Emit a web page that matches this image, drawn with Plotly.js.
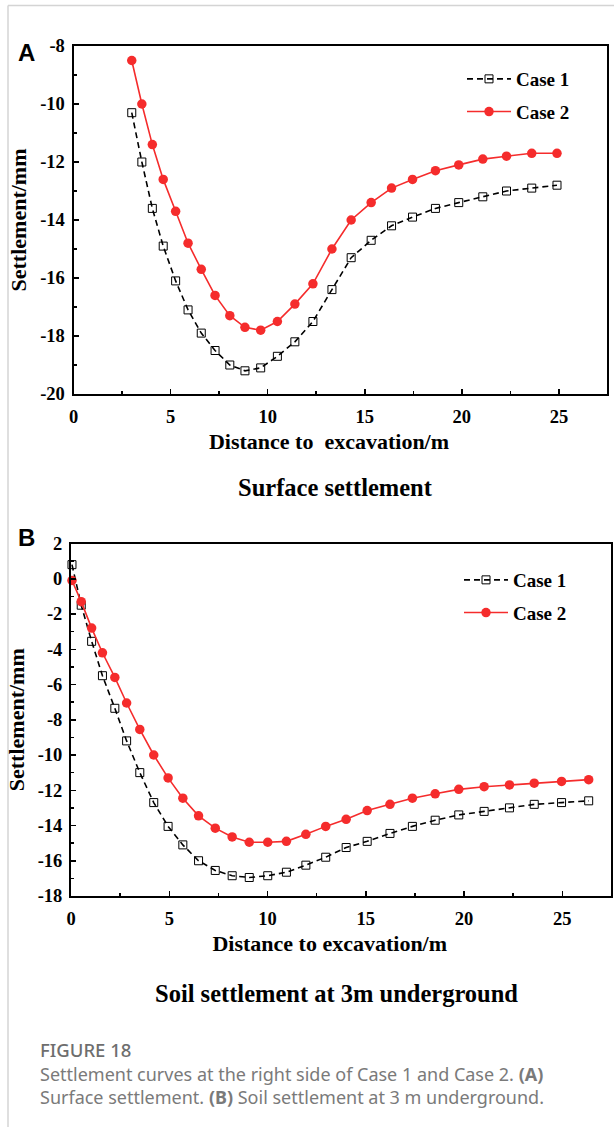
<!DOCTYPE html>
<html>
<head>
<meta charset="utf-8">
<script src="https://cdn.plot.ly/plotly-3.0.1.min.js"></script>
<style>
  html, body { margin: 0; padding: 0; background: #ffffff; }
  #chart { width: 614px; height: 1127px; }
</style>
</head>
<body>
<div id="chart"></div>
<script>
// ---------- data ----------
const seriesNames = ['Case 1', 'Case 2'];

// Panel A: surface settlement
const distanceA = [3.0, 3.52, 4.06, 4.62, 5.26, 5.9, 6.58, 7.29, 8.05, 8.83, 9.64, 10.5, 11.4, 12.33, 13.31, 14.3, 15.33, 16.38, 17.46, 18.64, 19.84, 21.08, 22.3, 23.6, 24.9];
const surfaceCase1 = [-10.3, -12.0, -13.6, -14.9, -16.1, -17.1, -17.9, -18.5, -19.0, -19.2, -19.1, -18.7, -18.2, -17.5, -16.4, -15.3, -14.7, -14.2, -13.9, -13.6, -13.4, -13.2, -13.0, -12.9, -12.8];
const surfaceCase2 = [-8.5, -10.0, -11.4, -12.6, -13.7, -14.8, -15.7, -16.6, -17.3, -17.7, -17.8, -17.5, -16.9, -16.2, -15.0, -14.0, -13.4, -12.9, -12.6, -12.3, -12.1, -11.9, -11.8, -11.7, -11.7];

// Panel B: soil settlement at 3 m underground
const distanceB = [0.05, 0.52, 1.05, 1.6, 2.23, 2.83, 3.5, 4.21, 4.94, 5.69, 6.49, 7.34, 8.2, 9.07, 10.01, 10.96, 11.95, 12.96, 14.0, 15.07, 16.23, 17.37, 18.53, 19.73, 21.02, 22.31, 23.57, 24.96, 26.34];
const soilCase1 = [0.8, -1.5, -3.55, -5.5, -7.35, -9.2, -11.0, -12.7, -14.05, -15.1, -16.0, -16.55, -16.85, -16.95, -16.85, -16.65, -16.25, -15.8, -15.25, -14.9, -14.45, -14.05, -13.7, -13.4, -13.2, -13.0, -12.8, -12.7, -12.6];
const soilCase2 = [-0.1, -1.3, -2.8, -4.2, -5.6, -7.05, -8.55, -10.0, -11.3, -12.45, -13.45, -14.15, -14.65, -14.95, -14.95, -14.9, -14.5, -14.05, -13.65, -13.15, -12.8, -12.45, -12.2, -11.95, -11.8, -11.7, -11.6, -11.5, -11.4];

// tick labels
const xTickVals = [0, 5, 10, 15, 20, 25];
const xTickText = ['0', '5', '10', '15', '20', '25'];
const yTickValsA = [-20, -18, -16, -14, -12, -10, -8];
const yTickTextA = ['-20', '-18', '-16', '-14', '-12', '-10', '-8'];
const yTickValsB = [-18, -16, -14, -12, -10, -8, -6, -4, -2, 0, 2];
const yTickTextB = ['-18', '-16', '-14', '-12', '-10', '-8', '-6', '-4', '-2', '0', '2'];

// texts
const panelLabels = ['A', 'B'];
const subTitles = ['Surface settlement', 'Soil settlement at 3m underground'];
const xTitles = ['Distance to&nbsp; excavation/m', 'Distance to excavation/m'];
const yTitle = 'Settlement/mm';
const figureLabel = 'FIGURE 18';
const captionLine1 = 'Settlement curves at the right side of Case 1 and Case 2. <b>(A)</b>';
const captionLine2 = 'Surface settlement. <b>(B)</b> Soil settlement at 3 m underground.';

// ---------- layout helpers ----------
const W = 614, H = 1127;
const px = v => v / W;
const py = v => 1 - v / H;

const serif = 'Liberation Serif, Times New Roman, serif';
const RED = '#f52c2c';
const PAD = '&nbsp;&nbsp;&nbsp;&nbsp;';   // shifts the centred x title slightly left, as in the reference

function case1Trace(x, y, xa, ya, legend, group) {
  return {
    x: x, y: y, xaxis: xa, yaxis: ya, name: seriesNames[0], legend: legend, legendgroup: group,
    type: 'scatter', mode: 'lines+markers', cliponaxis: false,
    line: { color: '#000000', width: 1.6, dash: '6px,4px' },
    marker: { symbol: 'square-open', size: 8, color: '#000000', line: { width: 1, color: '#000000' } }
  };
}
function case2Trace(x, y, xa, ya, legend, group) {
  return {
    x: x, y: y, xaxis: xa, yaxis: ya, name: seriesNames[1], legend: legend, legendgroup: group,
    type: 'scatter', mode: 'lines+markers', cliponaxis: false,
    line: { color: RED, width: 1.6 },
    marker: { symbol: 'circle', size: 9.5, color: RED }
  };
}

const data = [
  case1Trace(distanceA, surfaceCase1, 'x', 'y', 'legend', 'a1'),
  case2Trace(distanceA, surfaceCase2, 'x', 'y', 'legend', 'a2'),
  case1Trace(distanceB, soilCase1, 'x2', 'y2', 'legend2', 'b1'),
  case2Trace(distanceB, soilCase2, 'x2', 'y2', 'legend2', 'b2')
];

const tickFont = { family: serif, size: 18.5, color: '#000000', weight: 'bold' };
const titleFont = { family: serif, size: 22, color: '#000000', weight: 'bold' };

function xAxis(domain, anchor, title) {
  return {
    domain: domain, anchor: anchor, range: [0, 27.45],
    showgrid: false, zeroline: false,
    showline: true, mirror: true, linecolor: '#000000', linewidth: 2,
    ticks: 'inside', ticklen: 5, tickwidth: 1.5, tickcolor: '#000000',
    tickmode: 'array', tickvals: xTickVals, ticktext: xTickText,
    tickfont: tickFont, ticklabelstandoff: 5,
    minor: { ticks: 'inside', ticklen: 3, tickwidth: 1.5, tickcolor: '#000000', tickmode: 'linear', tick0: 0, dtick: 2.5, showgrid: false },
    title: { text: title + PAD, font: titleFont, standoff: 7 },
    automargin: false
  };
}
function yAxis(domain, anchor, range, vals, text) {
  return {
    domain: domain, anchor: anchor, range: range,
    showgrid: false, zeroline: false,
    showline: true, mirror: true, linecolor: '#000000', linewidth: 2,
    ticks: 'inside', ticklen: 5, tickwidth: 1.5, tickcolor: '#000000',
    tickmode: 'array', tickvals: vals, ticktext: text,
    tickfont: tickFont, ticklabelstandoff: 3,
    minor: { ticks: 'inside', ticklen: 3, tickwidth: 1.5, tickcolor: '#000000', tickmode: 'linear', tick0: 0, dtick: 1, showgrid: false },
    title: { text: yTitle, font: titleFont, standoff: 7 },
    automargin: false
  };
}

const legendFont = { family: serif, size: 19, color: '#000000', weight: 'bold' };

const layout = {
  width: W, height: H,
  margin: { l: 0, r: 0, t: 0, b: 0 },
  paper_bgcolor: '#ffffff', plot_bgcolor: '#ffffff',
  showlegend: true,
  xaxis: xAxis([px(73.5), px(606.5)], 'y', xTitles[0]),
  yaxis: yAxis([py(394), py(46)], 'x', [-20, -8], yTickValsA, yTickTextA),
  xaxis2: xAxis([px(71), px(610.5)], 'y2', xTitles[1]),
  yaxis2: yAxis([py(896), py(543.5)], 'x2', [-18, 2], yTickValsB, yTickTextB),
  legend: {
    x: px(462), y: py(60), xanchor: 'left', yanchor: 'top',
    bgcolor: 'rgba(0,0,0,0)', borderwidth: 0, font: legendFont, itemwidth: 44,
    traceorder: 'grouped', tracegroupgap: 5
  },
  legend2: {
    x: px(459), y: py(561), xanchor: 'left', yanchor: 'top',
    bgcolor: 'rgba(0,0,0,0)', borderwidth: 0, font: legendFont, itemwidth: 44,
    traceorder: 'grouped', tracegroupgap: 5
  },
  annotations: [
    { text: '<b>' + panelLabels[0] + '</b>', xref: 'paper', yref: 'paper', x: px(16), y: py(52), xanchor: 'left', yanchor: 'middle', showarrow: false,
      font: { family: 'Liberation Sans, Arial, sans-serif', size: 24, color: '#000000' } },
    { text: '<b>' + panelLabels[1] + '</b>', xref: 'paper', yref: 'paper', x: px(16), y: py(537), xanchor: 'left', yanchor: 'middle', showarrow: false,
      font: { family: 'Liberation Sans, Arial, sans-serif', size: 24, color: '#000000' } },
    { text: subTitles[0], xref: 'paper', yref: 'paper', x: px(335), y: py(487), xanchor: 'center', yanchor: 'middle', showarrow: false,
      font: { family: serif, size: 24.5, color: '#000000', weight: 'bold' } },
    { text: subTitles[1], xref: 'paper', yref: 'paper', x: px(336), y: py(993), xanchor: 'center', yanchor: 'middle', showarrow: false,
      font: { family: serif, size: 24.5, color: '#000000', weight: 'bold' } },
    { text: figureLabel, xref: 'paper', yref: 'paper', x: px(38), y: py(1049), xanchor: 'left', yanchor: 'middle', showarrow: false,
      font: { family: 'Noto Sans, Open Sans, sans-serif', size: 18.5, color: '#6e6e6e', weight: 500 } },
    { text: captionLine1, xref: 'paper', yref: 'paper', x: px(38), y: py(1074), xanchor: 'left', yanchor: 'middle', showarrow: false,
      font: { family: 'Noto Sans, Open Sans, sans-serif', size: 18, color: '#7a7a7a' } },
    { text: captionLine2, xref: 'paper', yref: 'paper', x: px(38), y: py(1097), xanchor: 'left', yanchor: 'middle', showarrow: false,
      font: { family: 'Noto Sans, Open Sans, sans-serif', size: 18, color: '#7a7a7a' } }
  ],
  shapes: [
    { type: 'line', xref: 'paper', yref: 'paper', x0: px(8), x1: 1, y0: py(5.5), y1: py(5.5), line: { color: '#d4d4d4', width: 1.5 } },
    { type: 'line', xref: 'paper', yref: 'paper', x0: px(8), x1: px(8), y0: py(5.5), y1: 0, line: { color: '#d4d4d4', width: 1.5 } }
  ]
};

Plotly.newPlot('chart', data, layout, { staticPlot: true, displayModeBar: false });
</script>
</body>
</html>
